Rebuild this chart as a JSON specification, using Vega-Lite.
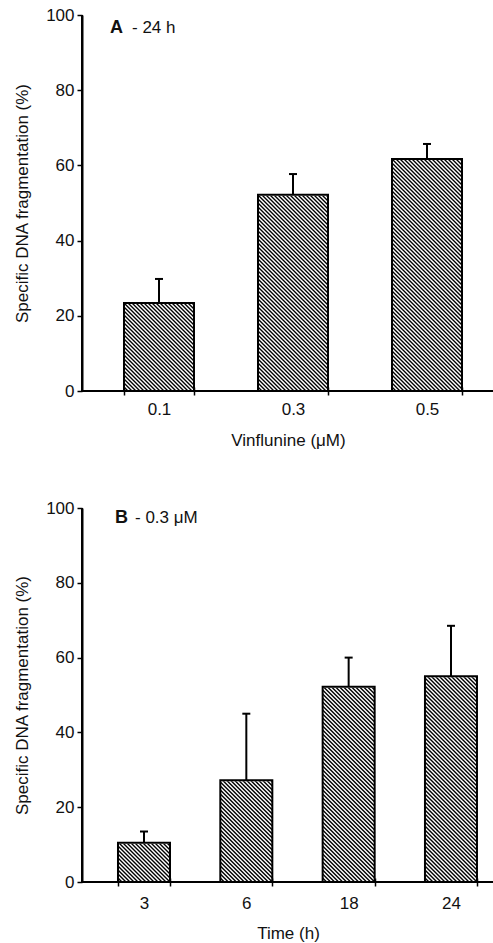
{
  "$schema": "https://vega.github.io/schema/vega-lite/v6.json",
  "padding": {"left": 12, "top": 5, "right": 0, "bottom": 0},
  "background": "white",
  "spacing": 49,
  "datasets": {
    "a": [
      {"conc": "0.1", "frag": 23.4, "frag_hi": 29.8},
      {"conc": "0.3", "frag": 52.2, "frag_hi": 57.7},
      {"conc": "0.5", "frag": 61.7, "frag_hi": 65.7}
    ],
    "b": [
      {"time": "3", "frag": 10.5, "frag_hi": 13.5},
      {"time": "6", "frag": 27.2, "frag_hi": 45},
      {"time": "18", "frag": 52.2, "frag_hi": 60},
      {"time": "24", "frag": 55, "frag_hi": 68.5}
    ]
  },
  "config": {
    "font": "Liberation Sans",
    "axis": {"domain": false, "grid": false, "offset": -4, "tickSize": 8, "tickWidth": 1.5, "tickColor": "black", "labelFont": "Liberation Sans", "labelFontSize": 17, "labelColor": "#111", "titleFont": "Liberation Sans", "titleFontSize": 17, "titleFontWeight": "normal", "titleColor": "#111"},
    "axisX": {"labelAngle": 0, "tickBand": "extent", "labelPadding": 6, "titlePadding": 15},
    "axisY": {"domain": true, "domainWidth": 2, "domainColor": "black", "offset": 0, "tickSize": 5, "labelPadding": 3, "titlePadding": 14}
  },
  "vconcat": [
    {
      "width": 412,
      "height": 376,
      "view": {"stroke": "black", "strokeWidth": 2, "strokeDash": [0, 788, 788]},
      "data": {"name": "a"},
      "encoding": {
        "x": {"field": "conc", "type": "nominal", "sort": null, "title": "Vinflunine (μM)", "scale": {"paddingInner": 0.4776, "paddingOuter": 0.2761, "align": 0.5676}}
      },
      "layer": [
        {
          "mark": {"type": "point", "shape": "M-35,-304l70,70M-35,-300l70,70M-35,-296l70,70M-35,-292l70,70M-35,-288l70,70M-35,-284l70,70M-35,-280l70,70M-35,-276l70,70M-35,-272l70,70M-35,-268l70,70M-35,-264l70,70M-35,-260l70,70M-35,-256l70,70M-35,-252l70,70M-35,-248l70,70M-35,-244l70,70M-35,-240l70,70M-35,-236l70,70M-35,-232l70,70M-35,-228l70,70M-35,-224l70,70M-35,-220l70,70M-35,-216l70,70M-35,-212l70,70M-35,-208l70,70M-35,-204l70,70M-35,-200l70,70M-35,-196l70,70M-35,-192l70,70M-35,-188l70,70M-35,-184l70,70M-35,-180l70,70M-35,-176l70,70M-35,-172l70,70M-35,-168l70,70M-35,-164l70,70M-35,-160l70,70M-35,-156l70,70M-35,-152l70,70M-35,-148l70,70M-35,-144l70,70M-35,-140l70,70M-35,-136l70,70M-35,-132l70,70M-35,-128l70,70M-35,-124l70,70M-35,-120l70,70M-35,-116l70,70M-35,-112l70,70M-35,-108l70,70M-35,-104l70,70M-35,-100l70,70M-35,-96l70,70M-35,-92l70,70M-35,-88l70,70M-35,-84l70,70M-35,-80l70,70M-35,-76l70,70M-35,-72l70,70M-35,-68l68,68M-35,-64l64,64M-35,-60l60,60M-35,-56l56,56M-35,-52l52,52M-35,-48l48,48M-35,-44l44,44M-35,-40l40,40M-35,-36l36,36M-35,-32l32,32M-35,-28l28,28M-35,-24l24,24M-35,-20l20,20M-35,-16l16,16M-35,-12l12,12M-35,-8l8,8M-35,-4l4,4", "size": 4, "filled": false, "stroke": "black", "strokeWidth": 1.4, "opacity": 1},
          "encoding": {
            "y": {"datum": 0, "type": "quantitative", "scale": {"domain": [0, 100]}, "axis": {"values": [0, 20, 40, 60, 80, 100], "title": "Specific DNA fragmentation (%)"}}
          }
        },
        {
          "mark": {"type": "bar", "fill": "white", "stroke": "white", "strokeWidth": 2},
          "encoding": {
            "y": {"field": "frag", "type": "quantitative", "title": "Specific DNA fragmentation (%)"},
            "y2": {"datum": 100}
          }
        },
        {
          "mark": {"type": "bar", "fill": "transparent", "stroke": "black", "strokeWidth": 2},
          "encoding": {
            "y": {"field": "frag", "type": "quantitative", "title": "Specific DNA fragmentation (%)"}
          }
        },
        {
          "mark": {"type": "rule", "stroke": "black", "strokeWidth": 2},
          "encoding": {
            "y": {"field": "frag", "type": "quantitative", "title": "Specific DNA fragmentation (%)"},
            "y2": {"field": "frag_hi", "title": "Specific DNA fragmentation (%)"}
          }
        },
        {
          "mark": {"type": "tick", "size": 8, "thickness": 2, "color": "black", "opacity": 1},
          "encoding": {
            "y": {"field": "frag_hi", "type": "quantitative", "title": "Specific DNA fragmentation (%)"}
          }
        },
        {
          "data": {"values": [{}]},
          "mark": {"type": "text", "text": "A", "fontWeight": "bold", "fontSize": 18, "align": "left", "baseline": "alphabetic", "dx": -14, "color": "#111"},
          "encoding": {
            "x": {"datum": "0.1", "type": "nominal", "bandPosition": 0},
            "y": {"datum": 95.2, "type": "quantitative", "title": "Specific DNA fragmentation (%)"}
          }
        },
        {
          "data": {"values": [{}]},
          "mark": {"type": "text", "text": "- 24 h", "fontSize": 17, "align": "left", "baseline": "alphabetic", "dx": 8, "color": "#111"},
          "encoding": {
            "x": {"datum": "0.1", "type": "nominal", "bandPosition": 0},
            "y": {"datum": 95.2, "type": "quantitative", "title": "Specific DNA fragmentation (%)"}
          }
        }
      ]
    },
    {
      "width": 412,
      "height": 374,
      "view": {"stroke": "black", "strokeWidth": 2, "strokeDash": [0, 786, 786]},
      "data": {"name": "b"},
      "encoding": {
        "x": {"field": "time", "type": "nominal", "sort": null, "title": "Time (h)", "axis": {"labelPadding": 9.5, "titlePadding": 13.5}, "scale": {"paddingInner": 0.4917, "paddingOuter": 0.259, "align": 0.679}}
      },
      "layer": [
        {
          "mark": {"type": "point", "shape": "M-26,-260l52,52M-26,-256l52,52M-26,-252l52,52M-26,-248l52,52M-26,-244l52,52M-26,-240l52,52M-26,-236l52,52M-26,-232l52,52M-26,-228l52,52M-26,-224l52,52M-26,-220l52,52M-26,-216l52,52M-26,-212l52,52M-26,-208l52,52M-26,-204l52,52M-26,-200l52,52M-26,-196l52,52M-26,-192l52,52M-26,-188l52,52M-26,-184l52,52M-26,-180l52,52M-26,-176l52,52M-26,-172l52,52M-26,-168l52,52M-26,-164l52,52M-26,-160l52,52M-26,-156l52,52M-26,-152l52,52M-26,-148l52,52M-26,-144l52,52M-26,-140l52,52M-26,-136l52,52M-26,-132l52,52M-26,-128l52,52M-26,-124l52,52M-26,-120l52,52M-26,-116l52,52M-26,-112l52,52M-26,-108l52,52M-26,-104l52,52M-26,-100l52,52M-26,-96l52,52M-26,-92l52,52M-26,-88l52,52M-26,-84l52,52M-26,-80l52,52M-26,-76l52,52M-26,-72l52,52M-26,-68l52,52M-26,-64l52,52M-26,-60l52,52M-26,-56l52,52M-26,-52l52,52M-26,-48l48,48M-26,-44l44,44M-26,-40l40,40M-26,-36l36,36M-26,-32l32,32M-26,-28l28,28M-26,-24l24,24M-26,-20l20,20M-26,-16l16,16M-26,-12l12,12M-26,-8l8,8M-26,-4l4,4", "size": 4, "filled": false, "stroke": "black", "strokeWidth": 1.4, "opacity": 1},
          "encoding": {
            "y": {"datum": 0, "type": "quantitative", "scale": {"domain": [0, 100]}, "axis": {"values": [0, 20, 40, 60, 80, 100], "title": "Specific DNA fragmentation (%)"}}
          }
        },
        {
          "mark": {"type": "bar", "fill": "white", "stroke": "white", "strokeWidth": 2},
          "encoding": {
            "y": {"field": "frag", "type": "quantitative", "title": "Specific DNA fragmentation (%)"},
            "y2": {"datum": 100}
          }
        },
        {
          "mark": {"type": "bar", "fill": "transparent", "stroke": "black", "strokeWidth": 2},
          "encoding": {
            "y": {"field": "frag", "type": "quantitative", "title": "Specific DNA fragmentation (%)"}
          }
        },
        {
          "mark": {"type": "rule", "stroke": "black", "strokeWidth": 2},
          "encoding": {
            "y": {"field": "frag", "type": "quantitative", "title": "Specific DNA fragmentation (%)"},
            "y2": {"field": "frag_hi", "title": "Specific DNA fragmentation (%)"}
          }
        },
        {
          "mark": {"type": "tick", "size": 8, "thickness": 2, "color": "black", "opacity": 1},
          "encoding": {
            "y": {"field": "frag_hi", "type": "quantitative", "title": "Specific DNA fragmentation (%)"}
          }
        },
        {
          "data": {"values": [{}]},
          "mark": {"type": "text", "text": "B", "fontWeight": "bold", "fontSize": 18, "align": "left", "baseline": "alphabetic", "dx": -3, "color": "#111"},
          "encoding": {
            "x": {"datum": "3", "type": "nominal", "bandPosition": 0},
            "y": {"datum": 96, "type": "quantitative", "title": "Specific DNA fragmentation (%)"}
          }
        },
        {
          "data": {"values": [{}]},
          "mark": {"type": "text", "text": "- 0.3 μM", "fontSize": 17, "align": "left", "baseline": "alphabetic", "dx": 17, "color": "#111"},
          "encoding": {
            "x": {"datum": "3", "type": "nominal", "bandPosition": 0},
            "y": {"datum": 96, "type": "quantitative", "title": "Specific DNA fragmentation (%)"}
          }
        }
      ]
    }
  ]
}
